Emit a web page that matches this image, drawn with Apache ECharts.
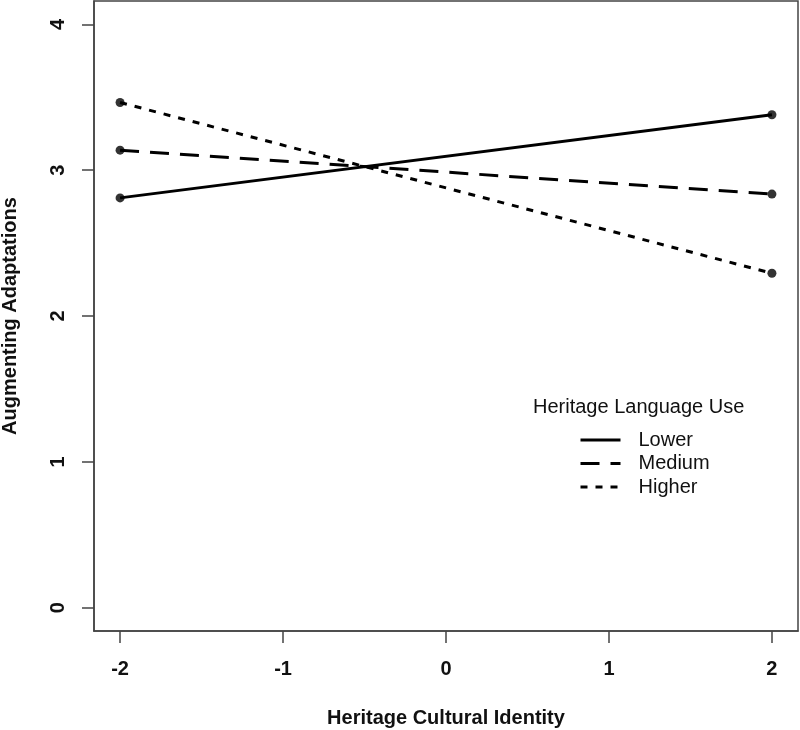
<!DOCTYPE html>
<html>
<head>
<meta charset="utf-8">
<script src="https://cdn.jsdelivr.net/npm/echarts@6/dist/echarts.min.js"></script>
<style>
  html, body { margin: 0; padding: 0; background: #fff; }
  #chart { width: 800px; height: 730px; }
</style>
</head>
<body>
<div id="chart"></div>
<script>
// x positions (Heritage Cultural Identity) and predicted values per group
var xVals = [-2, 2];
var lowerVals = [2.81, 3.38];
var mediumVals = [3.137, 2.836];
var higherVals = [3.464, 2.293];
var groupNames = ['Lower', 'Medium', 'Higher'];
var xTicks = [-2, -1, 0, 1, 2];
var yTicks = [0, 1, 2, 3, 4];

var FONT = '"Liberation Sans", Arial, sans-serif';

function pairs(vals) {
    var out = [];
    for (var i = 0; i < xVals.length; i++) {
        out.push([xVals[i], vals[i]]);
    }
    return out;
}

var dashes = {
    Lower: 'solid',
    Medium: [19, 11],
    Higher: [7, 8]
};
var valsByName = { Lower: lowerVals, Medium: mediumVals, Higher: higherVals };

var series = [];
groupNames.forEach(function (name) {
    series.push({
        name: name,
        type: 'line',
        symbol: 'none',
        data: pairs(valsByName[name]),
        lineStyle: { color: '#000', width: 3, type: dashes[name] },
        itemStyle: { color: '#000' },
        silent: true
    });
});
// end points
groupNames.forEach(function (name) {
    series.push({
        name: name + ' pts',
        type: 'scatter',
        symbol: 'circle',
        symbolSize: 9,
        data: pairs(valsByName[name]),
        itemStyle: { color: '#000' },
        silent: true
    });
});

var chart = echarts.init(document.getElementById('chart'));
chart.setOption({
    backgroundColor: '#fff',
    animation: false,
    textStyle: { fontFamily: FONT },
    grid: {
        left: 94, right: 2, top: 1, bottom: 99,
        outerBoundsMode: 'none',
        containLabel: false,
        show: true, borderColor: '#444', borderWidth: 1.5
    },
    title: {
        text: 'Heritage Language Use',
        left: 533, top: 397, padding: 0,
        textStyle: { fontFamily: FONT, fontSize: 20, fontWeight: 'normal', color: '#111' }
    },
    legend: {
        data: groupNames,
        orient: 'vertical',
        left: 579, top: 430, padding: 0,
        itemWidth: 40, itemHeight: 14, itemGap: 3.5,
        itemStyle: { opacity: 0 },
        lineStyle: { width: 3, color: '#000' },
        textStyle: { fontFamily: FONT, fontSize: 20, color: '#111', padding: [0, 0, 0, 13], lineHeight: 20 }
    },
    xAxis: {
        type: 'value',
        min: -2.16, max: 2.16,
        name: 'Heritage Cultural Identity',
        nameLocation: 'middle', nameGap: 77,
        nameTextStyle: { fontFamily: FONT, fontSize: 20, fontWeight: 'bold', color: '#111' },
        axisLine: { show: true, onZero: false, lineStyle: { color: '#444', width: 1.5 } },
        splitLine: { show: false },
        axisTick: { show: true, length: 12, customValues: xTicks, lineStyle: { color: '#444', width: 1.5 } },
        axisLabel: {
            customValues: xTicks, margin: 28,
            fontFamily: FONT, fontSize: 20, fontWeight: 'bold', color: '#111'
        }
    },
    yAxis: {
        type: 'value',
        min: -0.16, max: 4.16,
        name: 'Augmenting Adaptations',
        nameLocation: 'middle', nameGap: 74,
        nameTextStyle: { fontFamily: FONT, fontSize: 20, fontWeight: 'bold', color: '#111' },
        axisLine: { show: true, onZero: false, lineStyle: { color: '#444', width: 1.5 } },
        splitLine: { show: false },
        axisTick: { show: true, length: 12, customValues: yTicks, lineStyle: { color: '#444', width: 1.5 } },
        axisLabel: {
            customValues: yTicks, margin: 26, rotate: 90,
            fontFamily: FONT, fontSize: 20, fontWeight: 'bold', color: '#111'
        }
    },
    series: series
});
</script>
</body>
</html>
